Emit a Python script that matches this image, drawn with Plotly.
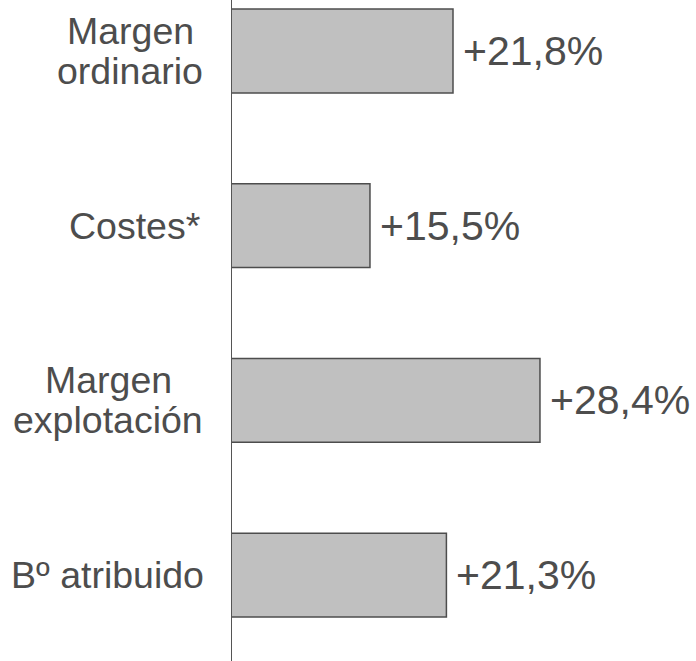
import plotly.graph_objects as go

categories = ["Margen<br>ordinario", "Costes*", "Margen<br>explotación", "Bº atribuido"]
values = [21.8, 15.5, 28.4, 21.3]
value_labels = ["+21,8%", "+15,5%", "+28,4%", "+21,3%"]

TEXT = "#4d4d4d"
FONT = "Liberation Sans, Arial, sans-serif"

# horizontal centre (px) of each category label block
label_centres = [130, 134, 108, 107]

fig = go.Figure()
fig.add_trace(go.Bar(
    x=values, y=categories, orientation="h",
    width=0.48,
    marker=dict(color="#c0c0c0", line=dict(color="#4d4d4d", width=1.5)),
    hoverinfo="skip",
))

annotations = []
for cat, val, lab, cx in zip(categories, values, value_labels, label_centres):
    annotations.append(dict(
        x=val, y=cat, xref="x", yref="y", text=lab, showarrow=False,
        xanchor="left", yanchor="middle", xshift=8,
        font=dict(size=41, color=TEXT, family=FONT),
    ))
    lines = cat.split("<br>")
    n = len(lines)
    for i, line in enumerate(lines):
        shift = (n - 1) / 2 * 40 - i * 40
        annotations.append(dict(
            x=0, y=cat, xref="paper", yref="y", text=line, showarrow=False,
            xanchor="center", yanchor="middle", yshift=shift,
            xshift=cx - 232,
            font=dict(size=37.5, color=TEXT, family=FONT),
        ))

fig.update_layout(
    width=696, height=661,
    margin=dict(l=232, r=0, t=0, b=0),
    paper_bgcolor="white", plot_bgcolor="white",
    showlegend=False,
    annotations=annotations,
    xaxis=dict(range=[5.03, 40.24], visible=False, fixedrange=True),
    yaxis=dict(
        categoryorder="array", categoryarray=categories,
        range=[3.492, -0.292], fixedrange=True,
        showticklabels=False, ticks="",
        showgrid=False, zeroline=False,
        showline=True, linecolor="#555555", linewidth=1.5,
    ),
)

fig.write_html(
    "out.html",
    config={"displayModeBar": False, "staticPlot": True},
    post_script="document.body.style.margin='0';document.body.style.overflow='hidden';",
)
